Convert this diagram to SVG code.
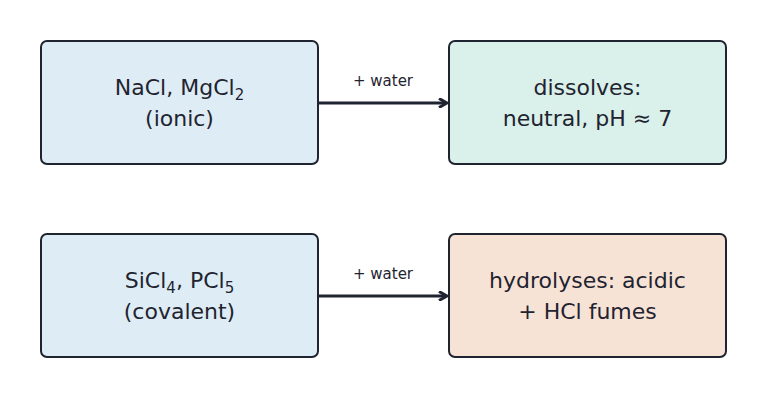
<svg xmlns="http://www.w3.org/2000/svg" width="767" height="400" viewBox="0 0 767 400">
<style>
.box{stroke:#1f2430;stroke-width:2}
.t{font-family:"DejaVu Sans",sans-serif;font-size:22px;fill:#1f2430;text-anchor:middle}
.l{font-family:"DejaVu Sans",sans-serif;font-size:15px;fill:#1f2430;text-anchor:middle}
.s{font-size:15px;baseline-shift:-5px}
.c{stroke:#1f2430;stroke-width:3;fill:none;marker-end:url(#a)}
</style>
<defs><marker id="a" markerWidth="10" markerHeight="10" refX="8" refY="5" orient="auto" markerUnits="userSpaceOnUse"><path d="M1,0.5 L9,5 L1,9.5" fill="none" stroke="#1f2430" stroke-width="3" stroke-linejoin="round"/></marker></defs>
<rect width="767" height="400" fill="#fff"/>
<g id="n1"><rect class="box" x="41" y="41" width="277" height="123" rx="6" fill="#deedf5"/><text class="t" x="179.5" y="95">NaCl, MgCl<tspan class="s">2</tspan></text><text class="t" x="179.5" y="126">(ionic)</text></g>
<g id="n2"><rect class="box" x="449" y="41" width="277" height="123" rx="6" fill="#daf0ea"/><text class="t" x="587.5" y="95">dissolves:</text><text class="t" x="587.5" y="126">neutral, pH ≈ 7</text></g>
<g id="n3"><rect class="box" x="41" y="234" width="277" height="123" rx="6" fill="#deedf5"/><text class="t" x="179.5" y="288">SiCl<tspan class="s">4</tspan>, PCl<tspan class="s">5</tspan></text><text class="t" x="179.5" y="319">(covalent)</text></g>
<g id="n4"><rect class="box" x="449" y="234" width="277" height="123" rx="6" fill="#f7e3d6"/><text class="t" x="587.5" y="288">hydrolyses: acidic</text><text class="t" x="587.5" y="319">+ HCl fumes</text></g>
<g id="connectors">
<path class="c" d="M318,103 H446"/><text class="l" x="383" y="86">+ water</text>
<path class="c" d="M318,296 H446"/><text class="l" x="383" y="279">+ water</text>
</g>
</svg>
